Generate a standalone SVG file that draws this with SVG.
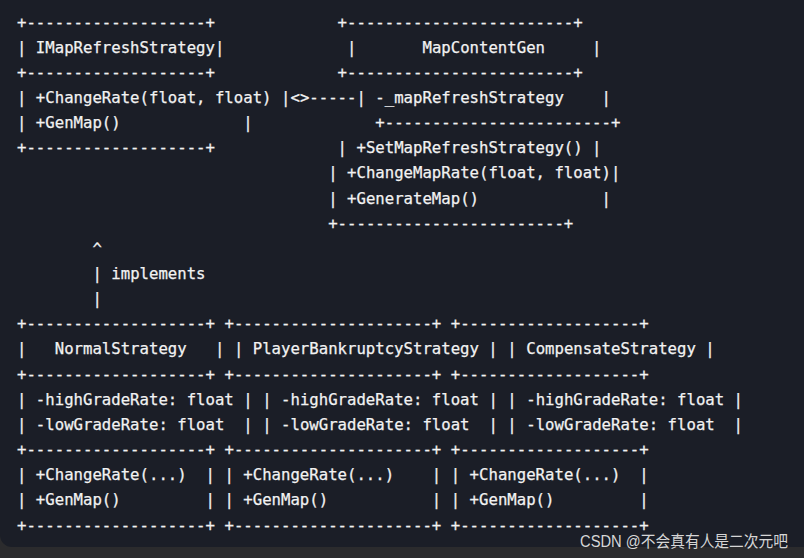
<svg xmlns="http://www.w3.org/2000/svg" width="804" height="558" viewBox="0 0 804 558">
<style>
text.c{font-family:"DejaVu Sans Mono","Liberation Mono",monospace;font-size:15.66px;fill:#f2f2f2;stroke:#f2f2f2;stroke-width:0.25px;white-space:pre}
text.wm{font-family:"Liberation Sans","Noto Sans CJK SC",sans-serif;font-size:16px;fill:#d6d6d6}
</style>
<rect x="0" y="0" width="804" height="558" fill="#2b2b2d"/>
<rect x="0" y="-20" width="830" height="567" rx="12" fill="#1b1e27"/>
<g id="IMapRefreshStrategy" xml:space="preserve">
<text class="c" x="17" y="27.5">+-------------------+</text>
<text class="c" x="17" y="52.65">| IMapRefreshStrategy|</text>
<text class="c" x="17" y="77.8">+-------------------+</text>
<text class="c" x="17" y="102.95">| +ChangeRate(float, float) |</text>
<text class="c" x="17" y="128.1">| +GenMap()             |</text>
<text class="c" x="17" y="153.25">+-------------------+</text>
</g>
<g id="MapContentGen" xml:space="preserve">
<text class="c" x="337.62" y="27.5">+------------------------+</text>
<text class="c" x="347.05" y="52.65">|       MapContentGen     |</text>
<text class="c" x="337.62" y="77.8">+------------------------+</text>
<text class="c" x="356.48" y="102.95">| -_mapRefreshStrategy    |</text>
<text class="c" x="375.34" y="128.1">+------------------------+</text>
<text class="c" x="337.62" y="153.25">| +SetMapRefreshStrategy() |</text>
<text class="c" x="328.19" y="178.4">| +ChangeMapRate(float, float)|</text>
<text class="c" x="328.19" y="203.55">| +GenerateMap()             |</text>
<text class="c" x="328.19" y="228.7">+------------------------+</text>
</g>
<g id="connectors" xml:space="preserve">
<text class="c" x="290.47" y="102.95">&lt;&gt;-----</text>
<text class="c" x="92.44" y="253.85">^</text>
<text class="c" x="92.44" y="279">| implements</text>
<text class="c" x="92.44" y="304.15">|</text>
</g>
<g id="NormalStrategy" xml:space="preserve">
<text class="c" x="17" y="329.3">+-------------------+</text>
<text class="c" x="17" y="354.45">|   NormalStrategy   |</text>
<text class="c" x="17" y="379.6">+-------------------+</text>
<text class="c" x="17" y="404.75">| -highGradeRate: float |</text>
<text class="c" x="17" y="429.9">| -lowGradeRate: float  |</text>
<text class="c" x="17" y="455.05">+-------------------+</text>
<text class="c" x="17" y="480.2">| +ChangeRate(...)  |</text>
<text class="c" x="17" y="505.35">| +GenMap()         |</text>
<text class="c" x="17" y="530.5">+-------------------+</text>
</g>
<g id="PlayerBankruptcyStrategy" xml:space="preserve">
<text class="c" x="224.46" y="329.3">+---------------------+</text>
<text class="c" x="233.89" y="354.45">| PlayerBankruptcyStrategy |</text>
<text class="c" x="224.46" y="379.6">+---------------------+</text>
<text class="c" x="262.18" y="404.75">| -highGradeRate: float |</text>
<text class="c" x="262.18" y="429.9">| -lowGradeRate: float  |</text>
<text class="c" x="224.46" y="455.05">+---------------------+</text>
<text class="c" x="224.46" y="480.2">| +ChangeRate(...)    |</text>
<text class="c" x="224.46" y="505.35">| +GenMap()           |</text>
<text class="c" x="224.46" y="530.5">+---------------------+</text>
</g>
<g id="CompensateStrategy" xml:space="preserve">
<text class="c" x="450.78" y="329.3">+-------------------+</text>
<text class="c" x="507.36" y="354.45">| CompensateStrategy |</text>
<text class="c" x="450.78" y="379.6">+-------------------+</text>
<text class="c" x="507.36" y="404.75">| -highGradeRate: float |</text>
<text class="c" x="507.36" y="429.9">| -lowGradeRate: float  |</text>
<text class="c" x="450.78" y="455.05">+-------------------+</text>
<text class="c" x="450.78" y="480.2">| +ChangeRate(...)  |</text>
<text class="c" x="450.78" y="505.35">| +GenMap()         |</text>
<text class="c" x="450.78" y="530.5">+-------------------+</text>
</g>
<text class="wm" x="580" y="546.5" textLength="208" lengthAdjust="spacingAndGlyphs">CSDN @不会真有人是二次元吧</text>
</svg>
